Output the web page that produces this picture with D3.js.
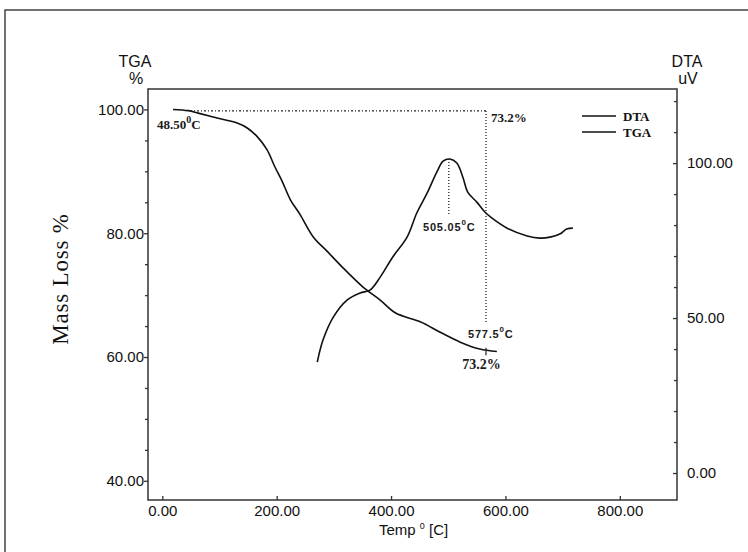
<!DOCTYPE html>
<html>
<head>
<meta charset="utf-8">
<script src="https://cdn.jsdelivr.net/npm/d3@7"></script>
<style>
  html, body { margin: 0; padding: 0; background: #fff; }
  svg { display: block; }
  .tick text { font-family: "Liberation Sans", Arial, sans-serif; font-size: 15px; fill: #111; }
</style>
</head>
<body>
<svg id="chart" width="748" height="552"></svg>
<script>
// ---- Data ----
const tgaTemp  = [18.7, 45.4, 62.9, 96.1, 131, 148.5, 166, 183, 197, 210, 224, 241, 264, 288, 316, 351, 381, 408, 451, 486, 521, 555, 585];
const tgaMass  = [100.0, 99.8, 99.4, 98.6, 97.8, 97.0, 95.6, 93.5, 90.7, 88.3, 85.4, 83.0, 79.4, 77.1, 74.4, 71.3, 69.2, 67.1, 65.7, 64.0, 62.4, 61.3, 60.9];
const dtaTemp  = [271, 281, 299, 323, 346, 363, 381, 403, 428, 445, 463, 480, 491, 503, 515, 526, 534, 550, 564, 576, 603, 638, 660, 678, 695, 707, 718];
const dtaValue = [35.8, 42.9, 50.3, 55.8, 58.1, 59.0, 63.2, 69.7, 76.1, 83.9, 90.3, 97.1, 100.6, 101.3, 100.0, 95.2, 90.6, 87.4, 84.2, 82.3, 79.0, 76.5, 75.8, 76.1, 77.1, 78.7, 79.0];

const xTicks    = [0, 200, 400, 600, 800];
const tgaTicks  = [40, 60, 80, 100];
const tgaMinor  = [45, 50, 55, 65, 70, 75, 85, 90, 95];
const dtaTicks  = [0, 50, 100];
const dtaMinor  = [10, 20, 30, 40, 60, 70, 80, 90, 110, 120];
const legendLabels = ["DTA", "TGA"];

// annotation anchors in data units
const onsetTemp = 48.5, onsetMass = 99.75;
const endTemp = 566, endMarkMass = 65.5;
const peakTemp = 501, peakTop = 101.3, peakBottom = 83.2;

// ---- Layout ----
const svg = d3.select("#chart");
const L = 148, R = 677, T = 89, B = 500;

const x  = d3.scaleLinear().domain([-25, 900]).range([L, R]);
const yT = d3.scaleLinear().domain([36.9, 103.3]).range([B, T]);
const yD = d3.scaleLinear().domain([-8.7, 123.9]).range([B, T]);

// outer frame
svg.append("rect").attr("x", 5).attr("y", 10).attr("width", 800).attr("height", 600)
  .attr("fill", "none").attr("stroke", "#444").attr("stroke-width", 1.5);

// axes
const fmt = d3.format(".2f");
const gL = svg.append("g").attr("transform", `translate(${L},0)`)
  .call(d3.axisLeft(yT).tickValues(tgaTicks).tickFormat(fmt).tickSize(4).tickPadding(0).tickSizeOuter(0));
const gLm = svg.append("g").attr("transform", `translate(${L},0)`)
  .call(d3.axisLeft(yT).tickValues(tgaMinor).tickFormat("").tickSize(3).tickSizeOuter(0));
const gR = svg.append("g").attr("transform", `translate(${R},0)`)
  .call(d3.axisRight(yD).tickValues(dtaTicks).tickFormat(fmt).tickSize(-4).tickPadding(10).tickSizeOuter(0));
const gRm = svg.append("g").attr("transform", `translate(${R},0)`)
  .call(d3.axisRight(yD).tickValues(dtaMinor).tickFormat("").tickSize(-3).tickSizeOuter(0));
const gB = svg.append("g").attr("transform", `translate(0,${B})`)
  .call(d3.axisBottom(x).tickValues(xTicks).tickFormat(fmt).tickSize(-4).tickPadding(5).tickSizeOuter(0));
[gL, gLm, gR, gRm, gB].forEach(g => {
  g.select(".domain").remove();
  g.selectAll(".tick line").attr("stroke", "#333").attr("stroke-width", 1.3);
});

// plot frame
svg.append("rect").attr("x", L).attr("y", T).attr("width", R - L).attr("height", B - T)
  .attr("fill", "none").attr("stroke", "#333").attr("stroke-width", 1.5);

// curves
const tgaData = tgaTemp.map((t, i) => [t, tgaMass[i]]);
const dtaData = dtaTemp.map((t, i) => [t, dtaValue[i]]);
const curve = d3.curveCatmullRom.alpha(0.5);
svg.append("path").datum(tgaData)
  .attr("d", d3.line().curve(curve).x(d => x(d[0])).y(d => yT(d[1])))
  .attr("fill", "none").attr("stroke", "#111").attr("stroke-width", 1.6);
svg.append("path").datum(dtaData)
  .attr("d", d3.line().curve(curve).x(d => x(d[0])).y(d => yD(d[1])))
  .attr("fill", "none").attr("stroke", "#111").attr("stroke-width", 1.6);

// guide lines
const dash = "2,2,1,2";
svg.append("line").attr("x1", x(onsetTemp)).attr("x2", x(endTemp))
  .attr("y1", yT(onsetMass)).attr("y2", yT(onsetMass))
  .attr("stroke", "#222").attr("stroke-width", 1.3).attr("stroke-dasharray", dash);
svg.append("line").attr("x1", x(endTemp)).attr("x2", x(endTemp))
  .attr("y1", yT(onsetMass)).attr("y2", yT(endMarkMass))
  .attr("stroke", "#222").attr("stroke-width", 1.3).attr("stroke-dasharray", "1,2");
svg.append("line").attr("x1", x(endTemp)).attr("x2", x(endTemp))
  .attr("y1", yT(61.5)).attr("y2", yT(60.3))
  .attr("stroke", "#222").attr("stroke-width", 1.2);
svg.append("line").attr("x1", x(peakTemp)).attr("x2", x(peakTemp))
  .attr("y1", yD(peakTop)).attr("y2", yD(peakBottom))
  .attr("stroke", "#222").attr("stroke-width", 1.3).attr("stroke-dasharray", "1,2");

// annotations
const serifB = "'Liberation Serif', 'Times New Roman', serif";
const sansB = "'Liberation Sans', Arial, sans-serif";
function annot(px, py, main, sup, tail, family, size, ls) {
  const t = svg.append("text").attr("x", px).attr("y", py)
    .attr("font-family", family).attr("font-weight", "bold").attr("font-size", size)
    .attr("fill", "#1a1a1a").attr("letter-spacing", ls || 0);
  t.append("tspan").text(main);
  if (sup) {
    t.append("tspan").attr("dy", -6).attr("font-size", size - 3).text(sup);
    t.append("tspan").attr("dy", 6).text(tail);
  }
}
annot(x(-9.3), yT(96.8), "48.50", "0", "C", serifB, 13, 0);
annot(x(574.6), yT(98.0), "73.2%", null, null, serifB, 13, 0);
annot(x(455.9), yD(78.1), "505.05", "0", "C", sansB, 11, 0.8);
annot(x(534.5), yT(63.1), "577.5", "0", "C", sansB, 11, 0.8);
annot(x(524.3), yT(58.1), "73.2%", null, null, serifB, 14, 0);

// legend
legendLabels.forEach((lab, i) => {
  const ly = 116 + i * 16;
  svg.append("line").attr("x1", 582).attr("x2", 616).attr("y1", ly).attr("y2", ly)
    .attr("stroke", "#111").attr("stroke-width", 1.5);
  svg.append("text").attr("x", 623).attr("y", ly + 5)
    .attr("font-family", serifB).attr("font-weight", "bold").attr("font-size", 13)
    .attr("fill", "#111").text(lab);
});

// axis titles
const sans = "'Liberation Sans', Arial, sans-serif";
function title(px, py, txt, size) {
  svg.append("text").attr("x", px).attr("y", py).attr("text-anchor", "middle")
    .attr("font-family", sans).attr("font-size", size || 16).attr("fill", "#111").text(txt);
}
title(135, 67, "TGA");
title(136, 84, "%");
title(687, 67, "DTA");
title(688, 84, "uV");

const xt = svg.append("text").attr("x", 379).attr("y", 535)
  .attr("font-family", sans).attr("font-size", 15).attr("fill", "#111");
xt.append("tspan").text("Temp ");
xt.append("tspan").attr("dy", -6).attr("font-size", 9).text("0");
xt.append("tspan").attr("dy", 6).text(" [C]");

svg.append("text")
  .attr("transform", `translate(68,${279}) rotate(-90)`)
  .attr("text-anchor", "middle")
  .attr("font-family", "'Liberation Serif', 'Times New Roman', serif")
  .attr("font-size", 23).attr("letter-spacing", 0.8).attr("fill", "#111").text("Mass Loss %");
</script>
</body>
</html>
